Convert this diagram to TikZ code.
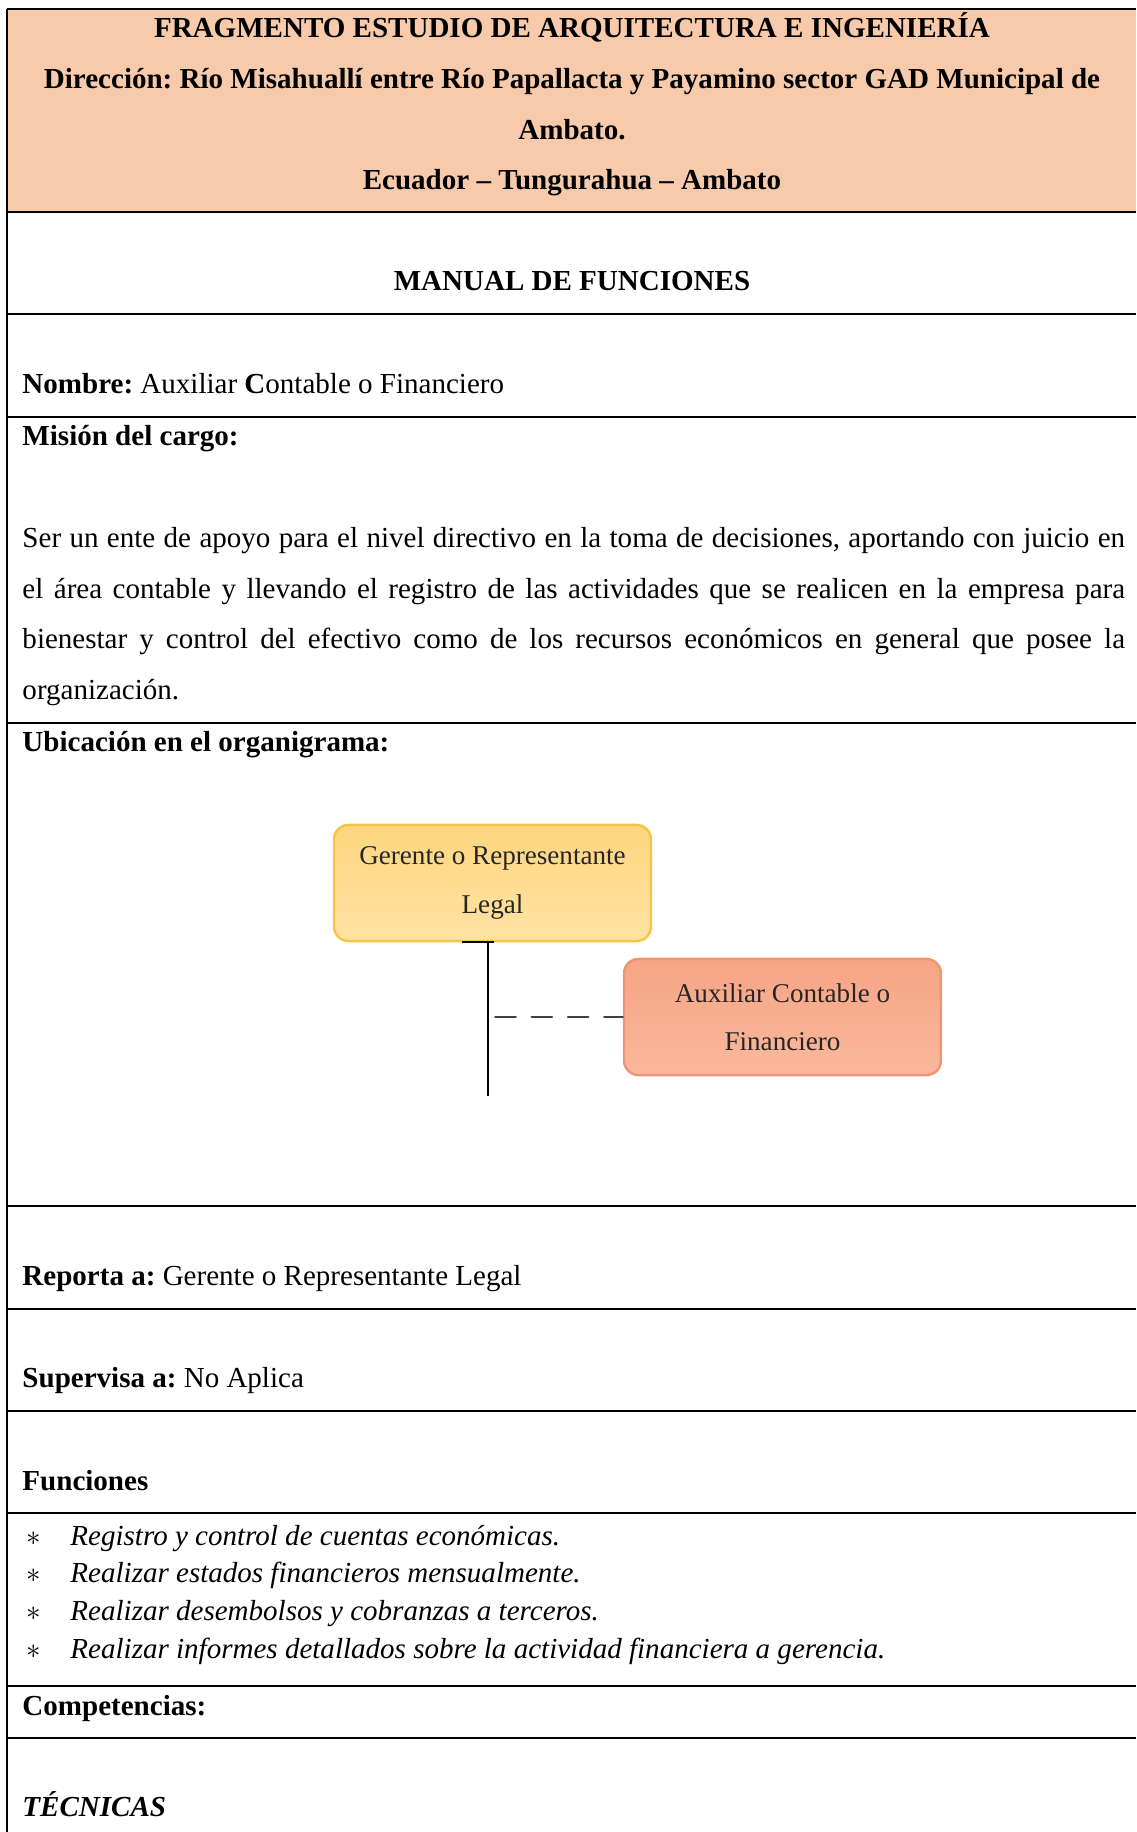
\documentclass[tikz,border=0pt]{standalone}
\usepackage{fontspec}
\setmainfont{Liberation Serif}
\usetikzlibrary{positioning}
\frenchspacing
\definecolor{encabezado}{HTML}{F7CAAC}
\definecolor{gerarriba}{HTML}{FFD680}
\definecolor{gerabajo}{HTML}{FFE2A2}
\definecolor{gerborde}{HTML}{F7C444}
\definecolor{auxarriba}{HTML}{F6A485}
\definecolor{auxabajo}{HTML}{FBB89C}
\definecolor{auxborde}{HTML}{EE9672}
\tikzset{
every picture/.append style={
    line join=round,
    line cap=round
  },
  texto/.style={inner sep=0pt,font=\fontsize{12}{14}\selectfont\frenchspacing},
  regla/.style={line width=0.9pt},
  caja/.style={rounded corners=6pt,line width=1pt,align=center,inner sep=0pt,
    minimum width=131pt,minimum height=48pt,text=black!85,
    font=\fontsize{11.2}{20}\selectfont}
}

\begin{document}
\begin{tikzpicture}[x=0.01453cm,y=-0.01453cm]
        \useasboundingbox (0,0) rectangle (1136,1832);
        \fill [encabezado] (7,9) rectangle (1136,212);
        \draw [regla,line cap=butt] (7,9) -- (1136,9);
        \draw [regla,line cap=butt] (7,9) -- (7,1832);
        \foreach \y in {212,314,417,723,1206,1309,1411,1513,1686,1738}
            \draw [regla,line cap=butt] (7,\y) -- (1136,\y);
        % encabezado
        \node [texto,anchor=base] (titulo) at (572,38) {\bfseries FRAGMENTO ESTUDIO DE ARQUITECTURA E INGENIERÍA};
        \node [texto,anchor=base] (direccion) at (572,89) {\bfseries Dirección: Río Misahuallí entre Río Papallacta y Payamino sector GAD Municipal de};
        \node [texto,anchor=base] (ciudad) at (572,140) {\bfseries Ambato.};
        \node [texto,anchor=base] (pais) at (572,190) {\bfseries Ecuador -- Tungurahua -- Ambato};
        \node [texto,anchor=base] (manual) at (572,291) {\bfseries MANUAL DE FUNCIONES};
        % filas
        \node [texto,anchor=base west] (nombre) at (22,394) {\textbf{Nombre:} Auxiliar \textbf{C}ontable o Financiero};
        \node [texto,anchor=base west] (mision) at (22,446) {\bfseries Misión del cargo:};
        \node [texto,anchor=base west] (misionA) at (22,548) {\makebox[455.7pt][s]{Ser un ente de apoyo para el nivel directivo en la toma de decisiones, aportando con juicio en}};
        \node [texto,anchor=base west] (misionB) at (22,598) {\makebox[455.7pt][s]{el área contable y llevando el registro de las actividades que se realicen en la empresa para}};
        \node [texto,anchor=base west] (misionC) at (22,648) {\makebox[455.7pt][s]{bienestar y control del efectivo como de los recursos económicos en general que posee la}};
        \node [texto,anchor=base west] (misionD) at (22,699) {organización.};
        \node [texto,anchor=base west] (ubicacion) at (22,751) {\bfseries Ubicación en el organigrama:};
        % organigrama
        \node [caja,draw=gerborde,top color=gerarriba,bottom color=gerabajo] (gerente) at (492.5,883) {Gerente o Representante\\Legal};
        \node [caja,draw=auxborde,top color=auxarriba,bottom color=auxabajo] (auxiliar) at (782.5,1017) {Auxiliar Contable o\\Financiero};
        \coordinate (tallo) at (488,1096);
        \draw [line width=1pt,line cap=butt] ([xshift=-26*0.4135pt]gerente.south -| tallo) -- ([xshift=6*0.4135pt]gerente.south -| tallo);
        \draw [line width=1.2pt,line cap=butt] (gerente.south -| tallo) -- (tallo);
        \draw [line width=0.9pt,black!75,dash pattern=on 8.5pt off 6.5pt] ([xshift=3pt]auxiliar.west -| tallo) -- (auxiliar.west);
        % resto de filas
        \node [texto,anchor=base west] (reporta) at (22,1285) {\textbf{Reporta a:} Gerente o Representante Legal};
        \node [texto,anchor=base west] (supervisa) at (22,1387) {\textbf{Supervisa a:} No Aplica};
        \node [texto,anchor=base west] (funciones) at (22,1490) {\bfseries Funciones};
        \foreach \y/\f [count=\i] in {1545/Registro y control de cuentas económicas.,
                                      1582/Realizar estados financieros mensualmente.,
                                      1620/Realizar desembolsos y cobranzas a terceros.,
                                      1658/Realizar informes detallados sobre la actividad financiera a gerencia.}{
            \node [texto,anchor=base west] (ast\i) at (26,\y) {$\ast$};
            \node [texto,anchor=base west] (funcion\i) at (70,\y) {\itshape \f};
        }
        \node [texto,anchor=base west] (competencias) at (22,1715) {\bfseries Competencias:};
        \node [texto,anchor=base west] (tecnicas) at (22,1816) {\bfseries\itshape TÉCNICAS};
    \end{tikzpicture}
\end{document}
